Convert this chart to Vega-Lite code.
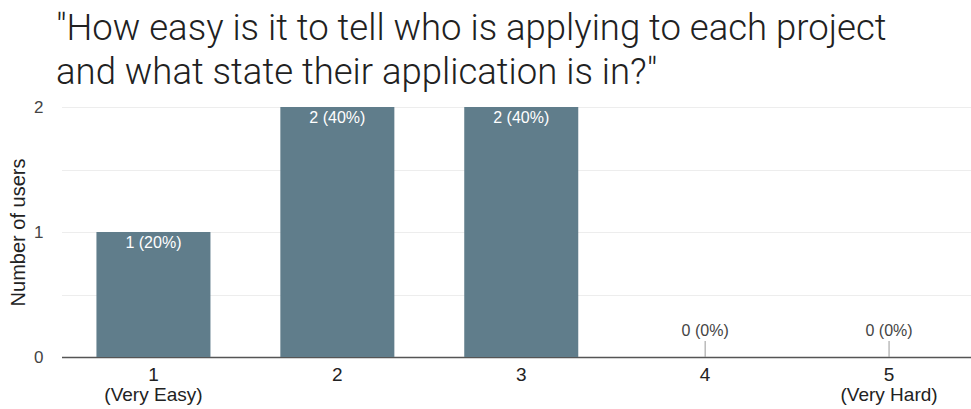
{
  "$schema": "https://vega.github.io/schema/vega-lite/v6.json",
  "width": 910,
  "height": 250,
  "autosize": "none",
  "padding": {"left": 61, "top": 107, "right": 0, "bottom": 52},
  "background": "white",
  "title": {
    "text": ["\"How easy is it to tell who is applying to each project", "and what state their application is in?\""],
    "anchor": "start",
    "frame": "group",
    "font": "Roboto",
    "fontSize": 36.5,
    "fontWeight": 300,
    "color": "#212121",
    "lineHeight": 44,
    "dx": -5,
    "offset": 7
  },
  "config": {
    "view": {"stroke": null},
    "font": "Liberation Sans"
  },
  "data": {
    "values": [
      {"rating": 1, "count": 1, "label": "1 (20%)"},
      {"rating": 2, "count": 2, "label": "2 (40%)"},
      {"rating": 3, "count": 2, "label": "2 (40%)"},
      {"rating": 4, "count": 0, "label": "0 (0%)"},
      {"rating": 5, "count": 0, "label": "0 (0%)"}
    ]
  },
  "encoding": {
    "x": {
      "field": "rating",
      "type": "ordinal",
      "scale": {"range": [0.5, 920], "paddingInner": 0.38, "paddingOuter": 0.19},
      "axis": {
        "title": null,
        "labelAngle": 0,
        "labelExpr": "datum.value == 1 ? ['1', '(Very Easy)'] : datum.value == 5 ? ['5', '(Very Hard)'] : datum.label",
        "labelFont": "Liberation Sans",
        "labelFontSize": 19,
        "labelColor": "#222222",
        "labelLineHeight": 20,
        "labelPadding": 8,
        "ticks": false,
        "domainColor": "#555555",
        "domainWidth": 1.5,
        "grid": false
      }
    },
    "y": {
      "field": "count",
      "type": "quantitative",
      "scale": {"domain": [0, 2], "nice": false},
      "axis": {
        "title": "Number of users",
        "titleFont": "Liberation Sans",
        "titleFontSize": 20,
        "titleFontWeight": "normal",
        "titleColor": "#222222",
        "titlePadding": 5,
        "values": [0, 0.5, 1, 1.5, 2],
        "labelExpr": "datum.value % 1 == 0 ? format(datum.value, 'd') : ''",
        "labelFont": "Liberation Sans",
        "labelFontSize": 17,
        "labelColor": "#444444",
        "labelPadding": 18,
        "ticks": false,
        "domain": false,
        "gridColor": "#ededed",
        "gridWidth": 1
      }
    }
  },
  "layer": [
    {
      "mark": {"type": "bar", "color": "#607d8b"}
    },
    {
      "transform": [{"filter": "datum.count > 0"}],
      "mark": {"type": "text", "color": "white", "fontSize": 16, "font": "Liberation Sans", "baseline": "alphabetic", "dy": 16},
      "encoding": {"text": {"field": "label"}}
    },
    {
      "transform": [{"filter": "datum.count == 0"}],
      "mark": {"type": "rule", "color": "#999999", "strokeWidth": 1, "y2Offset": -16},
      "encoding": {"y2": {"field": "count"}}
    },
    {
      "transform": [{"filter": "datum.count == 0"}],
      "mark": {"type": "text", "color": "#444444", "fontSize": 16, "font": "Liberation Sans", "baseline": "alphabetic", "dy": -21},
      "encoding": {"text": {"field": "label"}}
    }
  ]
}
